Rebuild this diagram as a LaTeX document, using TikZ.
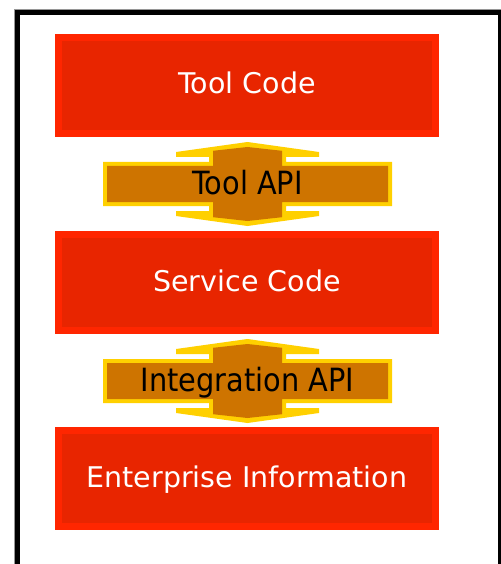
\documentclass[tikz,border=0pt]{standalone}
\usepackage{fontspec}
\setmainfont{DejaVu Sans}
\newfontfamily\apifont[FakeStretch=0.9]{DejaVu Sans}
\usetikzlibrary{backgrounds}

\definecolor{boxedge}{RGB}{255,38,0}
\definecolor{boxfill}{RGB}{232,37,0}
\definecolor{apiedge}{RGB}{255,208,0}
\definecolor{apifill}{RGB}{206,116,0}
\definecolor{frameline}{RGB}{150,150,150}

\tikzset{
  codebox/.style={rectangle, draw=boxedge, fill=boxfill, line width=7pt,
    minimum width=377pt, minimum height=96pt, inner sep=0pt,
    text=white, font=\fontsize{28.5}{30}\selectfont,
    text height=17pt, text depth=0pt},
  apilabel/.style={inner sep=0pt, text=black,
    font=\apifont\fontsize{32}{34}\selectfont,
    text height=20pt, text depth=0pt},
  apiouter/.style={fill=apiedge},
  apiinner/.style={fill=apifill}
}

% two-headed vertical arrow crossing a horizontal bar, centred on the label
\newcommand\apiconnector[1]{%
  \begin{scope}[shift={(#1)}]
    \fill[apiouter] (0,-42) -- (71.5,-32) -- (71.5,-27) -- (38.5,-27) -- (38.5,-22)
      -- (144.5,-22) -- (144.5,22) -- (38.5,22) -- (38.5,27) -- (71.5,27) -- (71.5,32)
      -- (0,42) -- (-71.5,32) -- (-71.5,27) -- (-38.5,27) -- (-38.5,22) -- (-144.5,22)
      -- (-144.5,-22) -- (-38.5,-22) -- (-38.5,-27) -- (-71.5,-27) -- (-71.5,-32) -- cycle;
    \fill[apiinner] (0,-37) -- (34.5,-33.2) -- (34.5,-18) -- (140.5,-18) -- (140.5,18)
      -- (34.5,18) -- (34.5,33.2) -- (0,37) -- (-34.5,33.2) -- (-34.5,18) -- (-140.5,18)
      -- (-140.5,-18) -- (-34.5,-18) -- (-34.5,-33.2) -- cycle;
  \end{scope}}

\begin{document}
\begin{tikzpicture}[x=1pt,y=-1pt]
  \useasboundingbox (0,0) rectangle (500,564);

  % outer frame
  \draw[frameline, line width=0.8pt] (14,600) -- (14,9.4) -- (520,9.4);
  \draw[black, line width=5pt] (17,600) -- (17,12.5) -- (500.2,12.5) -- (500.2,600);

  % layers
  \node[codebox] (tool)    at (247,85.5)  {Tool Code};
  \node[codebox] (service) at (247,282.5) {Service Code};
  \node[codebox] (enterprise) at (247,478.5) {Enterprise Information};

  % interfaces between layers
  \node[apilabel] (toolapi) at (247.5,184) {Tool API};
  \node[apilabel] (intapi)  at (247.5,381) {Integration API};

  \begin{scope}[on background layer]
    \fill[white] (19.5,15) rectangle (497.7,564);
    \apiconnector{toolapi}
    \apiconnector{intapi}
  \end{scope}
\end{tikzpicture}
\end{document}
